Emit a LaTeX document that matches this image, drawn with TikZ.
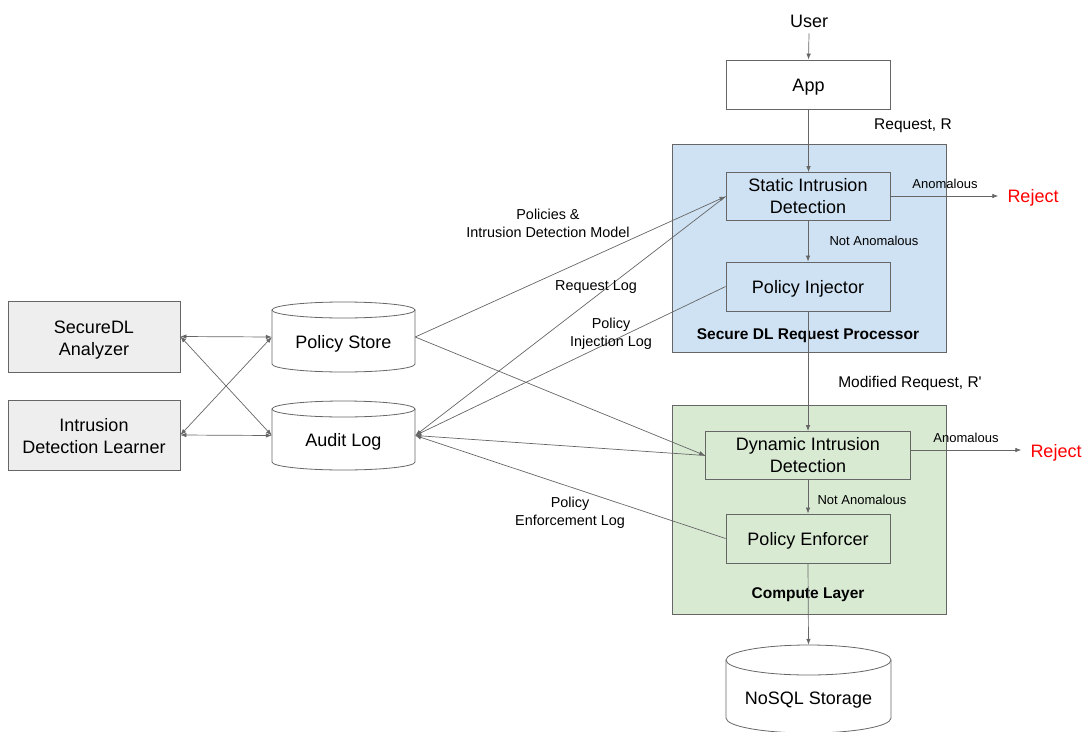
\documentclass[tikz,border=0pt]{standalone}
\usepackage{fontspec}
\setmainfont{Liberation Sans}
\usetikzlibrary{arrows.meta}
\definecolor{linec}{HTML}{666666}
\definecolor{bluef}{HTML}{CFE2F3}
\definecolor{greenf}{HTML}{D9EAD3}
\definecolor{grayf}{HTML}{EEEEEE}
\definecolor{rejc}{HTML}{FF0000}
\newcommand\fbig{\fontsize{18}{22}\selectfont}
\newcommand\fmid{\fontsize{14.4}{18}\selectfont}
\newcommand\fsml{\fontsize{13}{16}\selectfont}
\newcommand\freq{\fontsize{15.5}{18}\selectfont}
\newcommand\fbld{\fontsize{15.5}{18}\selectfont\bfseries}
\begin{document}
\begin{tikzpicture}[x=1pt,y=-1pt,
  >={Latex[length=6pt,width=4.5pt]},
  box/.style={draw=linec, line width=0.8pt, align=center, inner sep=0pt, font=\fbig},
  oneline/.style={text height=13pt, text depth=0pt},
  container/.style={draw=linec, line width=0.8pt, inner sep=0pt},
  ghost/.style={inner sep=0pt, draw=none},
  cylst/.style={draw=linec, line width=0.8pt},
  conn/.style={draw=linec, line width=0.7pt},
  lbl/.style={inner sep=0pt, align=center},
]
\useasboundingbox (0,0) rectangle (1084,731);

% containers
\node[container, fill=bluef, minimum width=274pt, minimum height=208pt] (sdl) at (809,248) {};
\node[container, fill=greenf, minimum width=274pt, minimum height=209pt] (cl) at (809,509.5) {};

% top
\node[lbl, font=\fbig] (user) at (809,21) {User};
\node[box, oneline, minimum width=164pt, minimum height=49pt] (app) at (808.5,84.5) {App};

% secure DL
\node[box, minimum width=164pt, minimum height=48pt] (sid) at (808,196.5) {Static Intrusion\\Detection};
\node[box, oneline, minimum width=164pt, minimum height=49pt] (pi) at (808,286.5) {Policy Injector};
\node[lbl, font=\fbld] (sdlt) at (808,335.5) {Secure DL Request Processor};

% compute
\node[box, minimum width=205pt, minimum height=48pt] (did) at (808,455.5) {Dynamic Intrusion\\Detection};
\node[box, oneline, minimum width=164pt, minimum height=49pt] (pe) at (808,538.5) {Policy Enforcer};
\node[lbl, font=\fbld] (clt) at (808,594.5) {Compute Layer};

% left boxes
\node[box, fill=grayf, minimum width=172pt, minimum height=71pt] (an) at (94,336.5) {};
\node[lbl, font=\fbig] (ant) at (94,340.5) {SecureDL\\Analyzer};
\node[box, fill=grayf, minimum width=172pt, minimum height=70pt] (lr) at (94,435) {};
\node[lbl, font=\fbig] (lrt) at (94,436) {Intrusion\\Detection Learner};

% cylinders
\draw[cylst, fill=white] (272,310) -- (272,364) arc[start angle=180,end angle=360,x radius=71.5pt,y radius=8pt] -- (415,310);
\draw[cylst] (343.5,310) ellipse[x radius=71.5pt, y radius=8pt];
\node[ghost, minimum width=143pt, minimum height=70pt] (ps) at (343.5,337) {};
\node[lbl, font=\fbig] (pst) at (343.5,344) {Policy Store};

\draw[cylst, fill=white] (272,409) -- (272,462) arc[start angle=180,end angle=360,x radius=71.5pt,y radius=8pt] -- (415,409);
\draw[cylst] (343.5,409) ellipse[x radius=71.5pt, y radius=8pt];
\node[ghost, minimum width=143pt, minimum height=69pt] (al) at (343.5,435.5) {};
\node[lbl, font=\fbig] (alt) at (343.5,442) {Audit Log};

\draw[cylst, fill=white] (726,660) -- (726,718) arc[start angle=180,end angle=360,x radius=82.5pt,y radius=15pt] -- (891,660);
\draw[cylst] (808.5,660) ellipse[x radius=82.5pt, y radius=15pt];
\node[ghost, minimum width=165pt, minimum height=88pt] (ns) at (808.5,689) {};
\node[lbl, font=\fbig] (nst) at (808.5,700) {NoSQL Storage};

% rejects
\node[lbl, font=\fbig, text=rejc] (rej1) at (1033,198) {Reject};
\node[lbl, font=\fbig, text=rejc] (rej2) at (1056,453) {Reject};

% vertical flow
\draw[conn,->] (user.south) ++(0,6) -- (app.north);
\draw[conn,->] (app.south) -- (app.south |- sid.north);
\draw[conn,->] (sid.south) -- (pi.north);
\draw[conn,->] (pi.south) -- (did.north);
\draw[conn,->] (did.south) -- (pe.north);
\draw[conn,->] (pe.south) -- (ns.north);

% reject arrows
\draw[conn,->] (sid.east |- 0,196) -- ([xshift=-9pt]rej1.west |- 0,196);
\draw[conn,->] (did.east |- 0,450) -- ([xshift=-9pt]rej2.west |- 0,450);

% left cross arrows
\draw[conn,<->] (an.east) -- (ps.west);
\draw[conn,<->] (lr.east) -- (al.west);
\draw[conn,<->] (an.east) -- (al.west);
\draw[conn,<->] (lr.east) -- (ps.west);

% middle connectors
\draw[conn,->] (ps.east) -- (sid.west);
\draw[conn,->] (ps.east) -- (did.west);
\draw[conn,->] (sid.west) -- (al.east);
\draw[conn,->] (pi.west) -- (al.east);
\draw[conn,->] (did.west) -- (al.east);
\draw[conn,->] (pe.west) -- (al.east);

% labels
\node[lbl, font=\freq] (lreq) at (913,125.5) {Request, R};
\node[lbl, font=\fsml] (lan1) at (945,184) {Anomalous};
\node[lbl, font=\fsml] (lna1) at (874,241) {Not Anomalous};
\node[lbl, font=\freq] (lmod) at (910,383.5) {Modified Request, R\textquotesingle};
\node[lbl, font=\fsml] (lan2) at (966,438) {Anomalous};
\node[lbl, font=\fsml] (lna2) at (862,500) {Not Anomalous};
\node[lbl, font=\fmid] (lpol) at (548,223) {Policies \&\\Intrusion Detection Model};
\node[lbl, font=\fmid] (lrl) at (596,287.5) {Request Log};
\node[lbl, font=\fmid] (lpil) at (611,333.5) {Policy\\Injection Log};
\node[lbl, font=\fmid] (lpel) at (570,512.5) {Policy\\Enforcement Log};
\end{tikzpicture}
\end{document}
